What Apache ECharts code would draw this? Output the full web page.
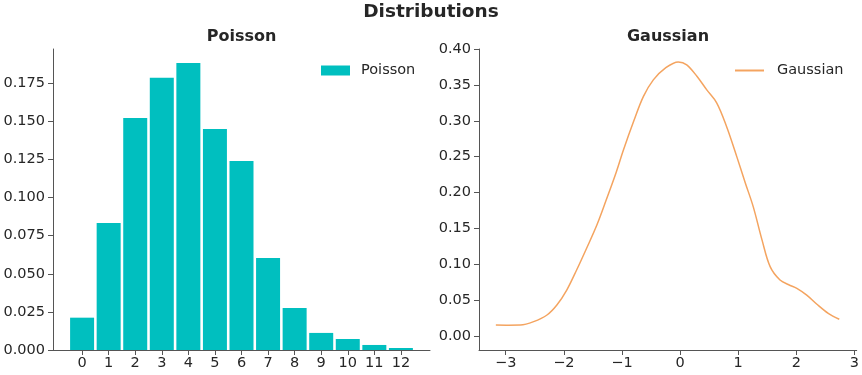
<!DOCTYPE html>
<html>
<head>
<meta charset="utf-8">
<script src="https://cdn.jsdelivr.net/npm/echarts@6/dist/echarts.min.js"></script>
<style>
  html, body { margin: 0; padding: 0; background: #fff; }
  #main { width: 862px; height: 375px; }
</style>
</head>
<body>
<div id="main"></div>
<script>
// 数据
var poissonK = [0, 1, 2, 3, 4, 5, 6, 7, 8, 9, 10, 11, 12];
var poissonP = [0.0212, 0.0833, 0.1522, 0.1785, 0.1883, 0.1450, 0.1240, 0.0604, 0.0276, 0.0112, 0.0072, 0.0033, 0.0013];

var gaussX = [-3.17, -2.95, -2.75, -2.52, -2.29, -2.12, -1.95, -1.78, -1.61, -1.43, -1.26, -1.10,
              -0.976, -0.80, -0.63, -0.46, -0.26, -0.03, 0.115, 0.29, 0.46, 0.63, 0.80, 0.976,
              1.12, 1.26, 1.41, 1.55, 1.72, 1.87, 2.01, 2.18, 2.35, 2.55, 2.74];
var gaussY = [0.0153, 0.0151, 0.0153, 0.020, 0.0293, 0.0432, 0.064, 0.092, 0.122, 0.155, 0.192, 0.228,
              0.259, 0.299, 0.334, 0.357, 0.373, 0.382, 0.378, 0.362, 0.343, 0.325, 0.292, 0.250,
              0.214, 0.180, 0.134, 0.0967, 0.078, 0.0715, 0.0665, 0.057, 0.0446, 0.0316, 0.0233];

var poissonYTicks = [0, 0.025, 0.05, 0.075, 0.1, 0.125, 0.15, 0.175];
var gaussYTicks = [0, 0.05, 0.1, 0.15, 0.2, 0.25, 0.3, 0.35, 0.4];
var gaussXTicks = [-3, -2, -1, 0, 1, 2, 3];

var FONT = 'DejaVu Sans';
var TXT = '#262626';
var LINE = '#555';

function fmtMinus(v) {
  return v < 0 ? '\u2212' + Math.abs(v) : String(v);
}

function valueAxis(opt) {
  return Object.assign({
    type: 'value',
    splitLine: { show: false },
    axisLine: { show: true, onZero: false, lineStyle: { color: LINE, width: 1 } },
    axisTick: { show: true, length: 5, lineStyle: { color: LINE } },
    axisLabel: { color: TXT, fontFamily: FONT, fontSize: 14.5 }
  }, opt);
}

var chart = echarts.init(document.getElementById('main'), null, { renderer: 'canvas' });

chart.setOption({
  animation: false,
  backgroundColor: '#fff',
  graphic: [
    { type: 'text', x: 431, y: 12.5, style: { text: 'Distributions', align: 'center', verticalAlign: 'middle', font: 'bold 18.5px "DejaVu Sans"', fill: TXT } },
    { type: 'text', x: 241.5, y: 37, style: { text: 'Poisson', align: 'center', verticalAlign: 'middle', font: 'bold 16px "DejaVu Sans"', fill: TXT } },
    { type: 'text', x: 668, y: 37, style: { text: 'Gaussian', align: 'center', verticalAlign: 'middle', font: 'bold 16px "DejaVu Sans"', fill: TXT } }
  ],
  legend: [
    {
      data: ['Poisson'], left: 321, top: 63, padding: 0, icon: 'rect', itemWidth: 29, itemHeight: 10,
      textStyle: { color: TXT, fontFamily: FONT, fontSize: 14.5, padding: [0, 0, 0, 6] }
    },
    {
      data: ['Gaussian'], left: 735, top: 63, padding: 0, icon: 'rect', itemWidth: 29, itemHeight: 2,
      textStyle: { color: TXT, fontFamily: FONT, fontSize: 14.5, padding: [0, 0, 0, 8] }
    }
  ],
  grid: [
    { left: 53, top: 49, width: 377, height: 301, containLabel: false },
    { left: 479, top: 49, width: 378, height: 301, containLabel: false }
  ],
  xAxis: [
    valueAxis({
      gridIndex: 0, min: -1.095, max: 13.095,
      axisTick: { show: true, length: 5, lineStyle: { color: LINE }, customValues: poissonK },
      axisLabel: { color: TXT, fontFamily: FONT, fontSize: 14.5, margin: 6, customValues: poissonK }
    }),
    valueAxis({
      gridIndex: 1, min: -3.46, max: 3.04,
      axisTick: { show: true, length: 5, lineStyle: { color: LINE }, customValues: gaussXTicks },
      axisLabel: { color: TXT, fontFamily: FONT, fontSize: 14.5, margin: 6, customValues: gaussXTicks, formatter: fmtMinus }
    })
  ],
  yAxis: [
    valueAxis({
      gridIndex: 0, min: 0, max: 0.1974,
      axisTick: { show: true, length: 5, lineStyle: { color: LINE }, customValues: poissonYTicks },
      axisLabel: { color: TXT, fontFamily: FONT, fontSize: 14.5, margin: 8, customValues: poissonYTicks,
        formatter: function (v) { return v.toFixed(3); } }
    }),
    valueAxis({
      gridIndex: 1, min: -0.0195, max: 0.4,
      axisTick: { show: true, length: 5, lineStyle: { color: LINE }, customValues: gaussYTicks },
      axisLabel: { color: TXT, fontFamily: FONT, fontSize: 14.5, margin: 8, customValues: gaussYTicks,
        formatter: function (v) { return v.toFixed(2); } }
    })
  ],
  series: [
    {
      name: 'Poisson', type: 'bar', xAxisIndex: 0, yAxisIndex: 0,
      barWidth: 24,
      itemStyle: { color: '#00BFBF' },
      data: poissonK.map(function (k, i) { return [k, poissonP[i]]; })
    },
    {
      name: 'Gaussian', type: 'line', xAxisIndex: 1, yAxisIndex: 1,
      smooth: 0.35, showSymbol: false, symbol: 'none',
      lineStyle: { color: '#F4A460', width: 1.5 },
      itemStyle: { color: '#F4A460' },
      data: gaussX.map(function (x, i) { return [x, gaussY[i]]; })
    }
  ]
});
</script>
</body>
</html>
